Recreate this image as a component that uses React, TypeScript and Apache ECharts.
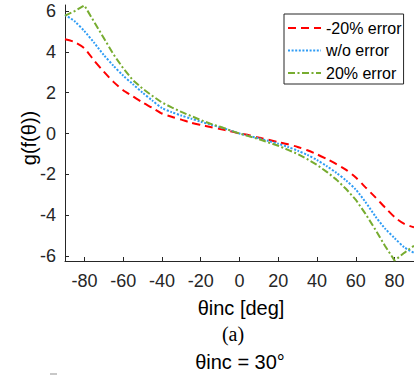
import React, { useEffect, useRef } from "react";
import * as echarts from "echarts";

const thetas = [-90, -85, -80, -75, -70, -65, -60, -55, -50, -45, -40, -35, -30, -25, -20, -15, -10, -5, 0, 5, 10, 15, 20, 25, 30, 35, 40, 45, 50, 55, 60, 65, 70, 75, 80, 85, 90];

const minus20 = [4.62, 4.48, 4.18, 3.58, 3.03, 2.53, 2.12, 1.82, 1.52, 1.26, 0.98, 0.82, 0.68, 0.53, 0.42, 0.32, 0.22, 0.12, 0, -0.08, -0.2, -0.31, -0.42, -0.53, -0.66, -0.82, -1.02, -1.25, -1.5, -1.78, -2.16, -2.64, -3.12, -3.62, -4.1, -4.43, -4.6];

const woError = [5.82, 5.5, 5.02, 4.45, 3.85, 3.32, 2.84, 2.42, 2.0, 1.62, 1.25, 1.05, 0.88, 0.73, 0.58, 0.44, 0.31, 0.16, 0, -0.12, -0.24, -0.37, -0.5, -0.66, -0.84, -1.05, -1.3, -1.6, -1.93, -2.3, -2.75, -3.36, -4.05, -4.65, -5.13, -5.58, -5.85];

const plus20 = [5.78, 6.0, 6.28, 5.48, 4.68, 3.88, 3.2, 2.62, 2.2, 1.85, 1.52, 1.28, 1.06, 0.86, 0.66, 0.48, 0.33, 0.16, 0, -0.14, -0.28, -0.44, -0.6, -0.8, -1.0, -1.26, -1.54, -1.88, -2.26, -2.72, -3.25, -3.94, -4.7, -5.5, -6.23, -5.85, -5.5];

const seriesNames = ["-20% error", "w/o error", "20% error"];
const xTicks = [-80, -60, -40, -20, 0, 20, 40, 60, 80];
const yTicks = [-6, -4, -2, 0, 2, 4, 6];

const xTitle = "θinc [deg]";
const yTitle = "g(f(θ))";
const caption = "(a)";
const subTitle = "θinc = 30°";

const pairs = (ys: number[]) => thetas.map((t, i) => [t, ys[i]]);

export default function App() {
  const ref = useRef<HTMLDivElement>(null);
  useEffect(() => {
    if (!ref.current) return;
    const chart = echarts.init(ref.current, null, { renderer: "svg" });
    const axisColor = "#262626";
    const font = "Liberation Sans";
    chart.setOption({
      animation: false,
      backgroundColor: "#fff",
      grid: { left: 65, top: 5, width: 353, height: 256 },
      xAxis: {
        type: "value",
        min: -90,
        max: 90,
        axisLine: { show: true, onZero: false, lineStyle: { color: axisColor, width: 1 } },
        axisTick: { show: true, inside: true, length: 4, customValues: xTicks, lineStyle: { color: axisColor } },
        axisLabel: { customValues: xTicks, fontSize: 18, fontFamily: font, color: axisColor, margin: 11 },
        splitLine: { show: false },
      },
      yAxis: {
        type: "value",
        min: -6.25,
        max: 6.3,
        axisLine: { show: true, onZero: false, lineStyle: { color: axisColor, width: 1 } },
        axisTick: { show: true, inside: true, length: 4, customValues: yTicks, lineStyle: { color: axisColor } },
        axisLabel: { customValues: yTicks, fontSize: 18, fontFamily: font, color: axisColor, margin: 9 },
        splitLine: { show: false },
      },
      legend: {
        orient: "vertical",
        left: 284,
        top: 14,
        itemWidth: 33,
        itemHeight: 16,
        itemGap: 6.5,
        padding: [6, 2, 3, 3],
        borderColor: axisColor,
        borderWidth: 1,
        borderRadius: 0,
        backgroundColor: "#fff",
        data: seriesNames,
        itemStyle: { color: "rgba(0,0,0,0)", borderColor: "rgba(0,0,0,0)", borderWidth: 0, opacity: 0 },
        textStyle: { fontSize: 16, fontFamily: font, color: "#000", lineHeight: 16 },
      },
      series: [
        {
          name: seriesNames[0],
          type: "line",
          data: pairs(minus20),
          symbol: "none",
          smooth: 0.25,
          lineStyle: { color: "#ff0000", width: 2, type: [8, 5] },
          itemStyle: { color: "#ff0000" },
        },
        {
          name: seriesNames[1],
          type: "line",
          data: pairs(woError),
          symbol: "none",
          smooth: 0.25,
          lineStyle: { color: "#2e9cf5", width: 2, type: [2, 1.6] },
          itemStyle: { color: "#2e9cf5" },
        },
        {
          name: seriesNames[2],
          type: "line",
          data: pairs(plus20),
          symbol: "none",
          smooth: false,
          lineStyle: { color: "#77ac30", width: 2, type: [7, 2.5, 2, 2.5] },
          itemStyle: { color: "#77ac30" },
        },
      ],
      graphic: [
        {
          type: "text",
          x: 241,
          y: 308,
          style: { text: xTitle, fontSize: 20, fontFamily: font, fill: "#000", align: "center", verticalAlign: "middle" },
        },
        {
          type: "text",
          x: 29,
          y: 138,
          rotation: Math.PI / 2,
          style: { text: yTitle, fontSize: 20, fontFamily: font, fill: "#000", align: "center", verticalAlign: "middle" },
        },
        {
          type: "text",
          x: 233,
          y: 334,
          style: { text: caption, fontSize: 20, fontFamily: "Liberation Serif", fill: "#000", align: "center", verticalAlign: "middle" },
        },
        {
          type: "text",
          x: 240,
          y: 362,
          style: { text: subTitle, fontSize: 20, fontFamily: font, fill: "#000", align: "center", verticalAlign: "middle" },
        },
        {
          type: "rect",
          shape: { x: 50, y: 373, width: 7, height: 2 },
          style: { fill: "#c8c8c8" },
        },
      ],
    });
    return () => chart.dispose();
  }, []);
  return (
    <div
      ref={ref}
      style={{ position: "fixed", left: 0, top: 0, width: 414, height: 375, background: "#fff" }}
    />
  );
}
